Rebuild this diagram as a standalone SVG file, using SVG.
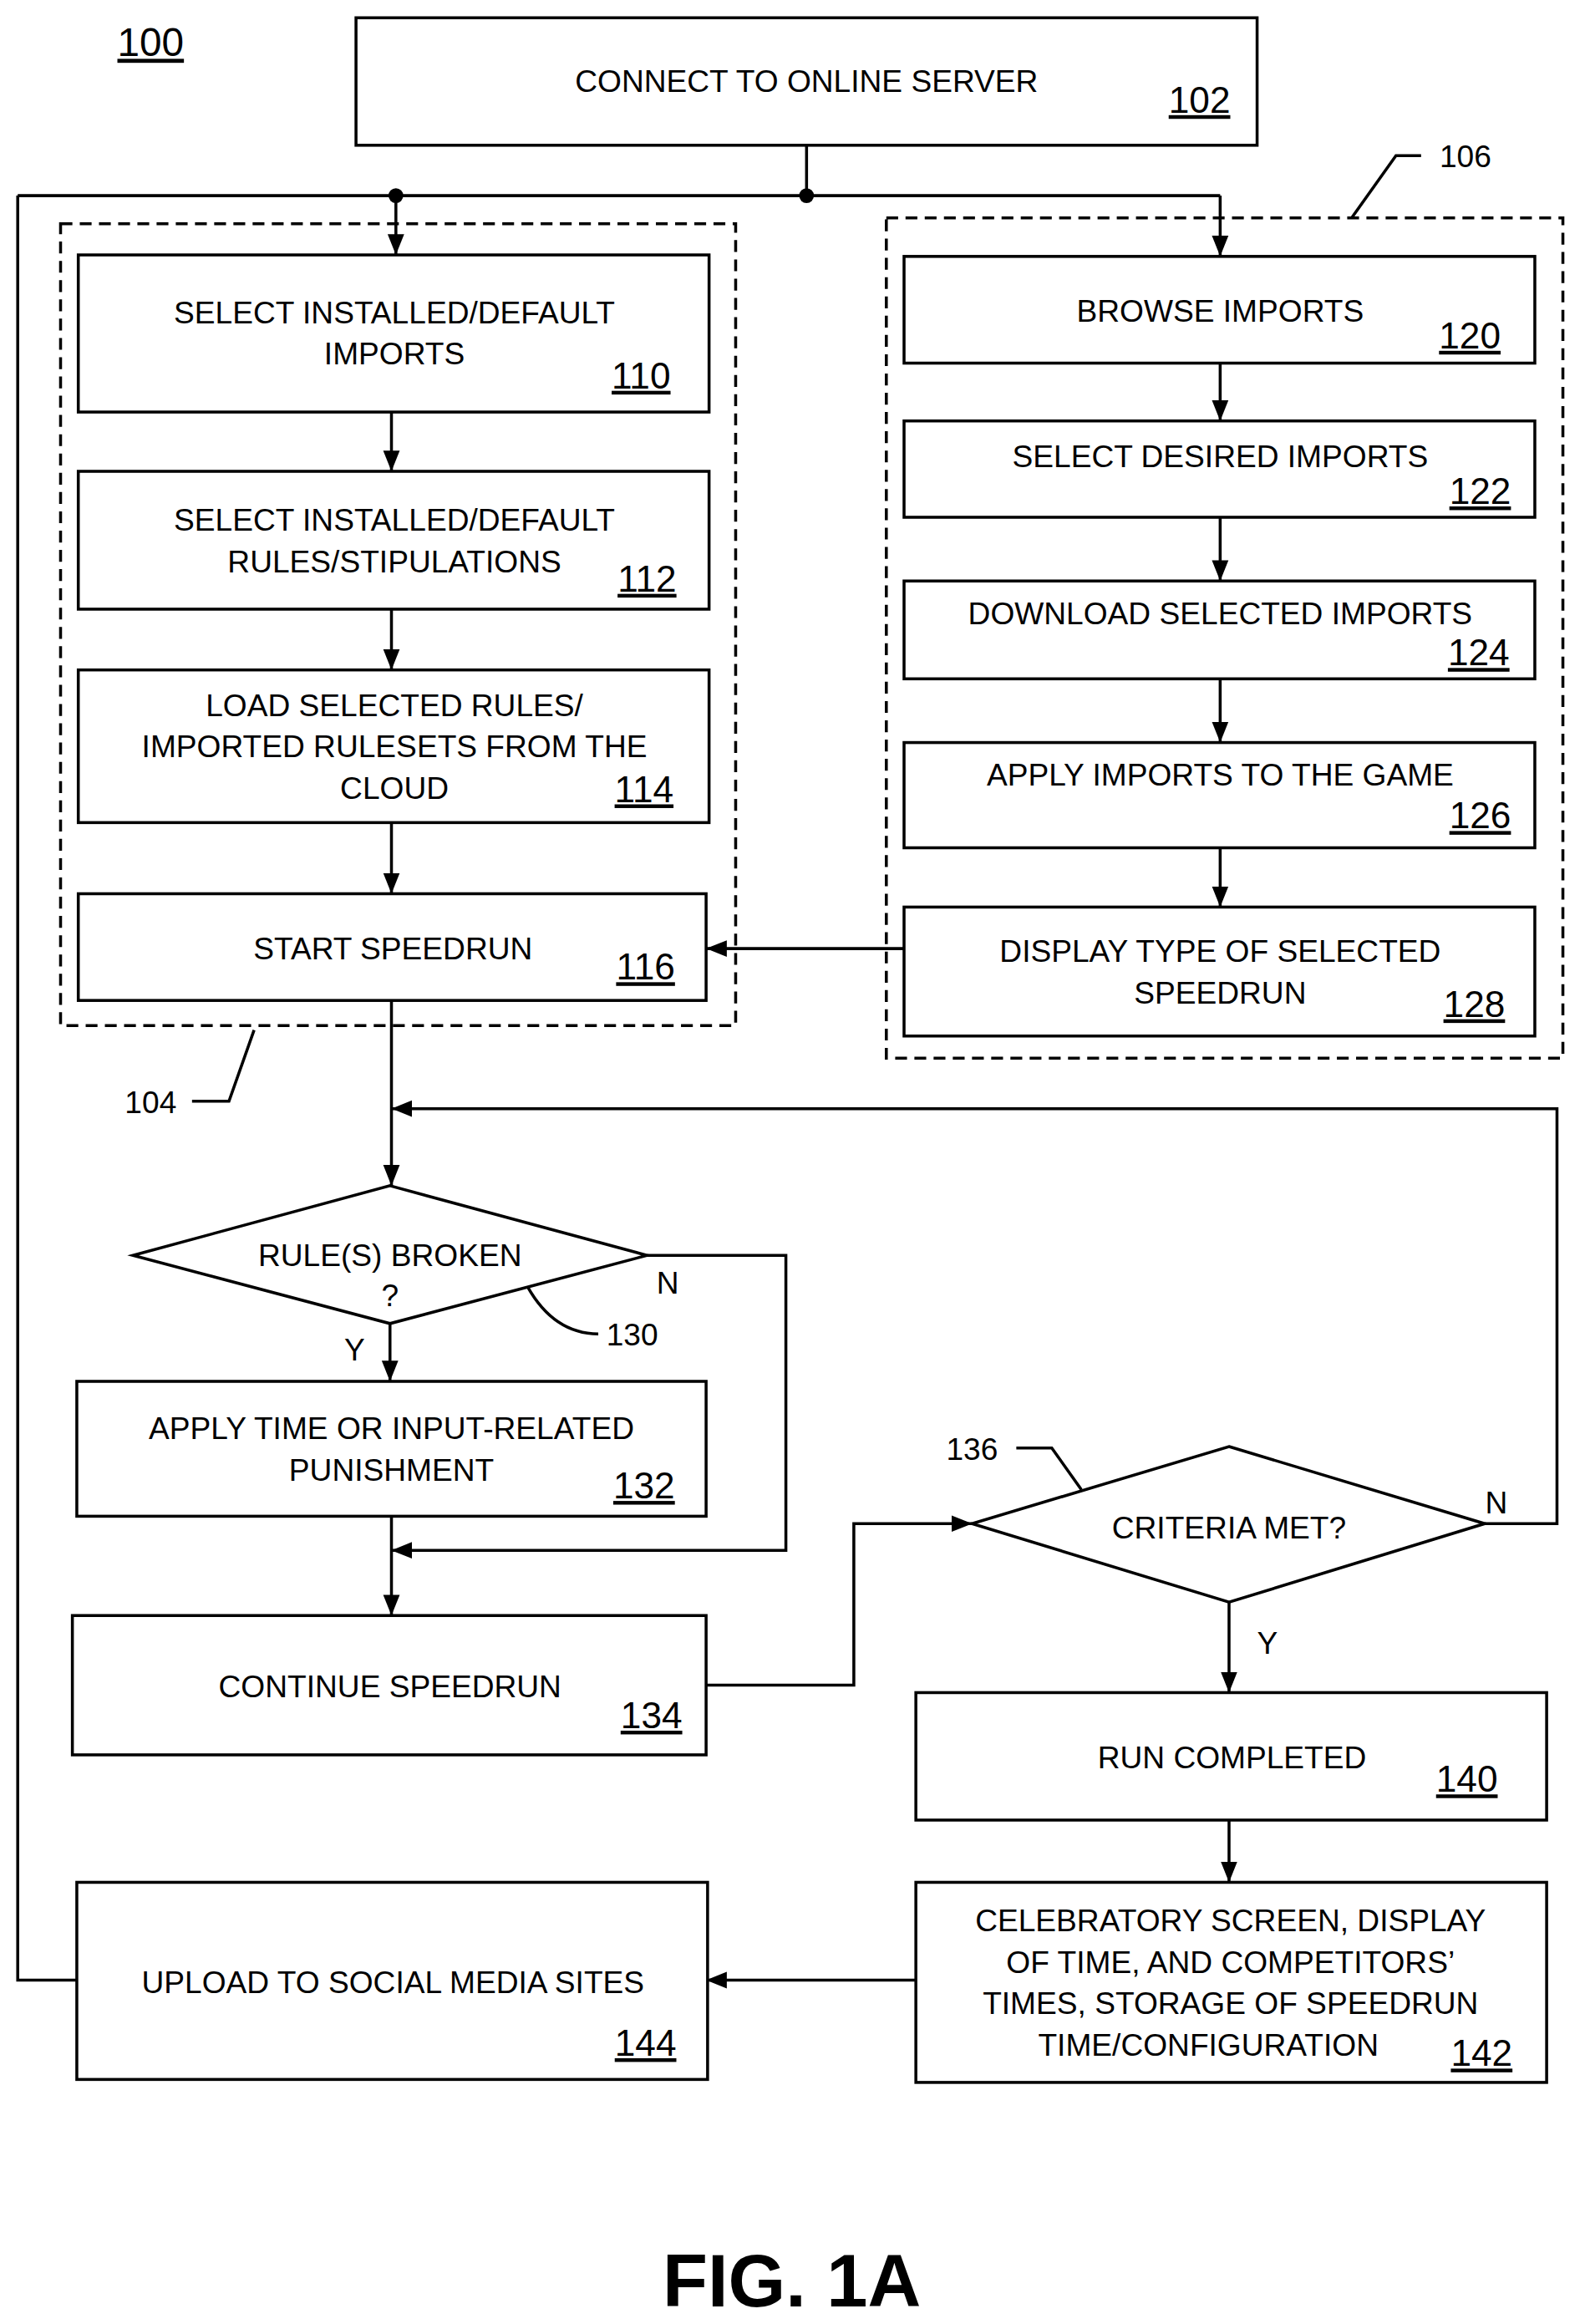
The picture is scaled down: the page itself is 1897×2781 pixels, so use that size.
<svg xmlns="http://www.w3.org/2000/svg" width="1897" height="2781" viewBox="0 0 1897 2781">
<style>
.b{fill:#fff;stroke:#000;stroke-width:2}
.d{fill:none;stroke:#000;stroke-width:2;stroke-dasharray:8,5}
.l{fill:none;stroke:#000;stroke-width:2}
.t{font-family:"Liberation Sans",Arial,sans-serif;font-size:21px;text-anchor:middle;fill:#000}
.n{font-family:"Liberation Sans",Arial,sans-serif;font-size:25px;text-anchor:middle;fill:#000;text-decoration:underline}
.r{font-family:"Liberation Sans",Arial,sans-serif;font-size:21px;text-anchor:middle;fill:#000}
</style>
<defs><marker id="a" viewBox="0 0 10 10" refX="10" refY="5" markerWidth="7" markerHeight="7" markerUnits="userSpaceOnUse" orient="auto"><path d="M0,0L10,5L0,10z"/></marker>
<marker id="ah" viewBox="0 0 10 10" refX="10" refY="5" markerWidth="14" markerHeight="14" markerUnits="userSpaceOnUse" orient="auto"><path d="M0,1L10,5L0,9z"/></marker></defs>
<rect width="1897" height="2781" fill="#fff"/>
<g transform="scale(1.768,1.7736)">
<text x="102" y="38" class="n" style="font-size:27px">100</text>
<g id="connectors">
<path class="l" d="M546,98V132M12,132H826M12,132V1336H52"/>
<circle cx="268" cy="132" r="5"/><circle cx="546" cy="132" r="5"/>
<path class="l" marker-end="url(#ah)" d="M268,132V172"/>
<path class="l" marker-end="url(#ah)" d="M826,132V173"/>
<path class="l" marker-end="url(#ah)" d="M265,278V318"/>
<path class="l" marker-end="url(#ah)" d="M265,411V452"/>
<path class="l" marker-end="url(#ah)" d="M265,555V603"/>
<path class="l" marker-end="url(#ah)" d="M826,245V284"/>
<path class="l" marker-end="url(#ah)" d="M826,349V392"/>
<path class="l" marker-end="url(#ah)" d="M826,458V501"/>
<path class="l" marker-end="url(#ah)" d="M826,572V612"/>
<path class="l" marker-end="url(#ah)" d="M612,640H478"/>
<path class="l" marker-end="url(#ah)" d="M265,675V800"/>
<path class="l" marker-end="url(#ah)" d="M1005,1028H1054V748H265"/>
<path class="l" marker-end="url(#ah)" d="M438,847H532V1046H265"/>
<path class="l" marker-end="url(#ah)" d="M264,893V932"/>
<path class="l" marker-end="url(#ah)" d="M265,1023V1090"/>
<path class="l" marker-end="url(#ah)" d="M478,1137H578V1028H658"/>
<path class="l" marker-end="url(#ah)" d="M832,1081V1142"/>
<path class="l" marker-end="url(#ah)" d="M832,1228V1270"/>
<path class="l" marker-end="url(#ah)" d="M620,1336H478"/>
<path class="l" d="M130,743H155L172,695M915,147L945,105H962M357,868Q375,900 405,900M688,977H712L732,1005"/>
<text x="102" y="751" class="r">104</text>
<text x="992" y="113" class="r">106</text>
<text x="428" y="908" class="r">130</text>
<text x="658" y="985" class="r">136</text>
<text x="452" y="873" class="r">N</text>
<text x="240" y="918" class="r">Y</text>
<text x="1013" y="1021" class="r">N</text>
<text x="858" y="1116" class="r">Y</text>
</g>
<rect class="d" x="41" y="151" width="457" height="541"/>
<rect class="d" x="600" y="147" width="458" height="567"/>
<g id="n102"><rect class="b" x="241" y="12" width="610" height="86"/><text class="t" x="546" y="62">CONNECT TO ONLINE SERVER</text><text class="n" x="812" y="76">102</text></g>
<g id="n110"><rect class="b" x="53" y="172" width="427" height="106"/><text class="t" x="267" y="218">SELECT INSTALLED/DEFAULT</text><text class="t" x="267" y="246">IMPORTS</text><text class="n" x="434" y="262">110</text></g>
<g id="n112"><rect class="b" x="53" y="318" width="427" height="93"/><text class="t" x="267" y="358">SELECT INSTALLED/DEFAULT</text><text class="t" x="267" y="386">RULES/STIPULATIONS</text><text class="n" x="438" y="399">112</text></g>
<g id="n114"><rect class="b" x="53" y="452" width="427" height="103"/><text class="t" x="267" y="483">LOAD SELECTED RULES/</text><text class="t" x="267" y="511">IMPORTED RULESETS FROM THE</text><text class="t" x="267" y="539">CLOUD</text><text class="n" x="436" y="541">114</text></g>
<g id="n116"><rect class="b" x="53" y="603" width="425" height="72"/><text class="t" x="266" y="647">START SPEEDRUN</text><text class="n" x="437" y="661">116</text></g>
<g id="n120"><rect class="b" x="612" y="173" width="427" height="72"/><text class="t" x="826" y="217">BROWSE IMPORTS</text><text class="n" x="995" y="235">120</text></g>
<g id="n122"><rect class="b" x="612" y="284" width="427" height="65"/><text class="t" x="826" y="315">SELECT DESIRED IMPORTS</text><text class="n" x="1002" y="340">122</text></g>
<g id="n124"><rect class="b" x="612" y="392" width="427" height="66"/><text class="t" x="826" y="421">DOWNLOAD SELECTED IMPORTS</text><text class="n" x="1001" y="449">124</text></g>
<g id="n126"><rect class="b" x="612" y="501" width="427" height="71"/><text class="t" x="826" y="530">APPLY IMPORTS TO THE GAME</text><text class="n" x="1002" y="559">126</text></g>
<g id="n128"><rect class="b" x="612" y="612" width="427" height="87"/><text class="t" x="826" y="649">DISPLAY TYPE OF SELECTED</text><text class="t" x="826" y="677">SPEEDRUN</text><text class="n" x="998" y="686">128</text></g>
<g id="n130"><path class="b" d="M264,800L438,847L264,893L90,847Z"/><text class="t" x="264" y="854">RULE(S) BROKEN</text><text class="t" x="264" y="881">?</text></g>
<g id="n132"><rect class="b" x="52" y="932" width="426" height="91"/><text class="t" x="265" y="971">APPLY TIME OR INPUT-RELATED</text><text class="t" x="265" y="999">PUNISHMENT</text><text class="n" x="436" y="1011">132</text></g>
<g id="n134"><rect class="b" x="49" y="1090" width="429" height="94"/><text class="t" x="264" y="1145">CONTINUE SPEEDRUN</text><text class="n" x="441" y="1166">134</text></g>
<g id="n136"><path class="b" d="M832,976L1005,1028L832,1081L658,1028Z"/><text class="t" x="832" y="1038">CRITERIA MET?</text></g>
<g id="n140"><rect class="b" x="620" y="1142" width="427" height="86"/><text class="t" x="834" y="1193">RUN COMPLETED</text><text class="n" x="993" y="1209">140</text></g>
<g id="n142"><rect class="b" x="620" y="1270" width="427" height="135"/><text class="t" x="833" y="1303">CELEBRATORY SCREEN, DISPLAY</text><text class="t" x="833" y="1331">OF TIME, AND COMPETITORS’</text><text class="t" x="833" y="1359">TIMES, STORAGE OF SPEEDRUN</text><text class="t" x="818" y="1387">TIME/CONFIGURATION</text><text class="n" x="1003" y="1394">142</text></g>
<g id="n144"><rect class="b" x="52" y="1270" width="427" height="133"/><text class="t" x="266" y="1345">UPLOAD TO SOCIAL MEDIA SITES</text><text class="n" x="437" y="1387">144</text></g>
<text x="536" y="1556" style="font-family:'Liberation Sans',Arial,sans-serif;font-size:50px;font-weight:bold;text-anchor:middle">FIG. 1A</text>
</g>
</svg>
